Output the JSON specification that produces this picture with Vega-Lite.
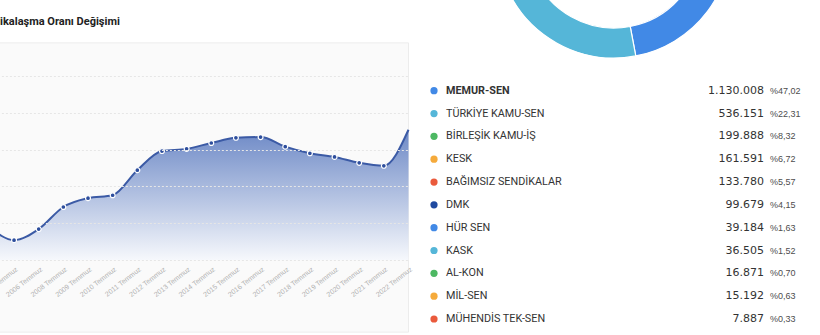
{
  "$schema": "https://vega.github.io/schema/vega-lite/v6.json",
  "width": 820,
  "height": 335,
  "autosize": "none",
  "padding": 0,
  "background": "#ffffff",
  "config": {
    "view": {"stroke": null},
    "locale": {"number": {"decimal": ",", "thousands": ".", "grouping": [3], "currency": ["", ""]}}
  },
  "title": {
    "text": "Sendikalaşma Oranı Değişimi",
    "anchor": "start",
    "frame": "group",
    "orient": "top",
    "offset": 0,
    "dx": -25,
    "dy": 36,
    "baseline": "alphabetic",
    "font": "Roboto",
    "fontSize": 11,
    "fontWeight": "bold",
    "color": "#222222"
  },
  "datasets": {
    "rate": [
      {"label": "2004 Temmuz", "v": 54.5},
      {"label": "2005 Temmuz", "v": 52.7},
      {"label": "2006 Temmuz", "v": 54.2},
      {"label": "2008 Temmuz", "v": 57.2},
      {"label": "2009 Temmuz", "v": 58.4},
      {"label": "2010 Temmuz", "v": 58.8},
      {"label": "2011 Temmuz", "v": 62.2},
      {"label": "2012 Temmuz", "v": 64.8},
      {"label": "2013 Temmuz", "v": 65.1},
      {"label": "2014 Temmuz", "v": 65.9},
      {"label": "2015 Temmuz", "v": 66.6},
      {"label": "2016 Temmuz", "v": 66.7},
      {"label": "2017 Temmuz", "v": 65.4},
      {"label": "2018 Temmuz", "v": 64.5},
      {"label": "2019 Temmuz", "v": 64.0},
      {"label": "2020 Temmuz", "v": 63.2},
      {"label": "2021 Temmuz", "v": 62.8},
      {"label": "2022 Temmuz", "v": 67.7}
    ],
    "unions": [
      {"name": "MEMUR-SEN", "count": 1130008, "pct": 47.02},
      {"name": "TÜRKİYE KAMU-SEN", "count": 536151, "pct": 22.31},
      {"name": "BİRLEŞİK KAMU-İŞ", "count": 199888, "pct": 8.32},
      {"name": "KESK", "count": 161591, "pct": 6.72},
      {"name": "BAĞIMSIZ SENDİKALAR", "count": 133780, "pct": 5.57},
      {"name": "DMK", "count": 99679, "pct": 4.15},
      {"name": "HÜR SEN", "count": 39184, "pct": 1.63},
      {"name": "KASK", "count": 36505, "pct": 1.52},
      {"name": "AL-KON", "count": 16871, "pct": 0.70},
      {"name": "MİL-SEN", "count": 15192, "pct": 0.63},
      {"name": "MÜHENDİS TEK-SEN", "count": 7887, "pct": 0.33}
    ]
  },
  "layer": [
    {
      "data": {"values": [{"panel": "Sendikalaşma Oranı Değişimi"}]},
      "mark": {"type": "rect", "fill": "#fafafa", "stroke": "#ececec", "strokeWidth": 1},
      "encoding": {
        "x": {"datum": "2004 Temmuz", "type": "ordinal", "axis": null,
              "scale": {"type": "point", "domain": ["2004 Temmuz","2005 Temmuz","2006 Temmuz","2008 Temmuz","2009 Temmuz","2010 Temmuz","2011 Temmuz","2012 Temmuz","2013 Temmuz","2014 Temmuz","2015 Temmuz","2016 Temmuz","2017 Temmuz","2018 Temmuz","2019 Temmuz","2020 Temmuz","2021 Temmuz","2022 Temmuz"], "range": [-10.6, 408.5], "padding": 0}},
        "x2": {"datum": "2022 Temmuz"},
        "y": {"datum": 79.5, "type": "quantitative", "axis": null, "scale": {"domain": [50, 75], "range": [260, 76], "zero": false, "nice": false}},
        "y2": {"datum": 40.2}
      }
    },
    {
      "data": {"name": "rate"},
      "mark": {"type": "area", "interpolate": "monotone",
               "color": {"x1": 0, "y1": 0, "x2": 0, "y2": 1, "gradient": "linear",
                         "stops": [{"offset": 0, "color": "#6d89c6"}, {"offset": 1, "color": "#f6f8fc"}]}},
      "encoding": {
        "x": {"field": "label", "type": "ordinal",
              "scale": {"type": "point", "domain": ["2004 Temmuz","2005 Temmuz","2006 Temmuz","2008 Temmuz","2009 Temmuz","2010 Temmuz","2011 Temmuz","2012 Temmuz","2013 Temmuz","2014 Temmuz","2015 Temmuz","2016 Temmuz","2017 Temmuz","2018 Temmuz","2019 Temmuz","2020 Temmuz","2021 Temmuz","2022 Temmuz"], "range": [-10.6, 408.5], "padding": 0},
              "axis": {"title": null, "orient": "bottom", "offset": -72, "labelAngle": -38, "domain": false, "ticks": false, "grid": false, "zindex": 2,
                       "labelColor": "#b0b0b0", "labelFont": "Liberation Sans", "labelFontSize": 7, "labelPadding": 2,
                       "labelOverlap": false, "labelBound": false, "labelFlush": false}},
        "y": {"field": "v", "type": "quantitative",
              "scale": {"domain": [50, 75], "range": [260, 76], "zero": false, "nice": false},
              "axis": {"title": null, "orient": "left", "values": [50, 55, 60, 65, 70, 75], "grid": true, "gridColor": "#e6e6e6", "gridDash": [2, 2], "gridWidth": 1,
                       "labels": false, "ticks": false, "domain": false, "zindex": 2}},
        "y2": {"datum": 50}
      }
    },
    {
      "data": {"name": "rate"},
      "mark": {"type": "line", "interpolate": "monotone", "color": "#3b5aa5", "strokeWidth": 2},
      "encoding": {
        "x": {"field": "label", "type": "ordinal", "axis": null,
              "scale": {"type": "point", "domain": ["2004 Temmuz","2005 Temmuz","2006 Temmuz","2008 Temmuz","2009 Temmuz","2010 Temmuz","2011 Temmuz","2012 Temmuz","2013 Temmuz","2014 Temmuz","2015 Temmuz","2016 Temmuz","2017 Temmuz","2018 Temmuz","2019 Temmuz","2020 Temmuz","2021 Temmuz","2022 Temmuz"], "range": [-10.6, 408.5], "padding": 0}},
        "y": {"field": "v", "type": "quantitative", "axis": null,
              "scale": {"domain": [50, 75], "range": [260, 76], "zero": false, "nice": false}}
      }
    },
    {
      "data": {"name": "rate"},
      "transform": [{"filter": "datum.label !== '2022 Temmuz'"}],
      "mark": {"type": "point", "filled": true, "color": "#2c4d9c", "stroke": "#ffffff", "strokeWidth": 1.2, "size": 24, "opacity": 1},
      "encoding": {
        "x": {"field": "label", "type": "ordinal", "axis": null,
              "scale": {"type": "point", "domain": ["2004 Temmuz","2005 Temmuz","2006 Temmuz","2008 Temmuz","2009 Temmuz","2010 Temmuz","2011 Temmuz","2012 Temmuz","2013 Temmuz","2014 Temmuz","2015 Temmuz","2016 Temmuz","2017 Temmuz","2018 Temmuz","2019 Temmuz","2020 Temmuz","2021 Temmuz","2022 Temmuz"], "range": [-10.6, 408.5], "padding": 0}},
        "y": {"field": "v", "type": "quantitative", "axis": null,
              "scale": {"domain": [50, 75], "range": [260, 76], "zero": false, "nice": false}}
      }
    },
    {
      "data": {"name": "unions"},
      "mark": {"type": "arc", "radius": 117, "radius2": 87, "x": 614, "y": -59, "stroke": "#ffffff", "strokeWidth": 1.2, "clip": true},
      "encoding": {
        "theta": {"field": "pct", "type": "quantitative", "stack": true, "scale": {"domain": [0, 100]}},
        "order": {"field": "pct", "type": "quantitative", "sort": "descending"},
        "color": {"field": "name", "type": "nominal", "legend": null,
                  "scale": {"domain": ["MEMUR-SEN","TÜRKİYE KAMU-SEN","BİRLEŞİK KAMU-İŞ","KESK","BAĞIMSIZ SENDİKALAR","DMK","HÜR SEN","KASK","AL-KON","MİL-SEN","MÜHENDİS TEK-SEN"],
                            "range": ["#4189e6","#55b6d8","#4db863","#f5aa3b","#ea5a3c","#1f4aa0","#4189e6","#55b6d8","#4db863","#f5aa3b","#ea5a3c"]}}
      }
    },
    {
      "data": {"name": "unions"},
      "mark": {"type": "circle", "size": 52, "opacity": 1},
      "encoding": {
        "y": {"field": "name", "type": "nominal", "axis": null,
              "scale": {"type": "point", "domain": ["MEMUR-SEN","TÜRKİYE KAMU-SEN","BİRLEŞİK KAMU-İŞ","KESK","BAĞIMSIZ SENDİKALAR","DMK","HÜR SEN","KASK","AL-KON","MİL-SEN","MÜHENDİS TEK-SEN"], "range": [90.7, 319], "padding": 0}},
        "x": {"datum": 0, "type": "quantitative", "axis": null, "scale": {"domain": [0, 1], "range": [434, 764], "zero": false, "nice": false}},
        "color": {"field": "name", "type": "nominal", "legend": null,
                  "scale": {"domain": ["MEMUR-SEN","TÜRKİYE KAMU-SEN","BİRLEŞİK KAMU-İŞ","KESK","BAĞIMSIZ SENDİKALAR","DMK","HÜR SEN","KASK","AL-KON","MİL-SEN","MÜHENDİS TEK-SEN"],
                            "range": ["#4189e6","#55b6d8","#4db863","#f5aa3b","#ea5a3c","#1f4aa0","#4189e6","#55b6d8","#4db863","#f5aa3b","#ea5a3c"]}}
      }
    },
    {
      "data": {"name": "unions"},
      "mark": {"type": "text", "align": "left", "baseline": "middle", "dx": 12, "font": "Roboto", "fontSize": 10.8, "color": "#333333",
               "fontWeight": {"expr": "datum.name === 'MEMUR-SEN' ? 'bold' : 'normal'"}},
      "encoding": {
        "y": {"field": "name", "type": "nominal", "axis": null,
              "scale": {"type": "point", "domain": ["MEMUR-SEN","TÜRKİYE KAMU-SEN","BİRLEŞİK KAMU-İŞ","KESK","BAĞIMSIZ SENDİKALAR","DMK","HÜR SEN","KASK","AL-KON","MİL-SEN","MÜHENDİS TEK-SEN"], "range": [90.7, 319], "padding": 0}},
        "x": {"datum": 0, "type": "quantitative", "axis": null, "scale": {"domain": [0, 1], "range": [434, 764], "zero": false, "nice": false}},
        "text": {"field": "name", "type": "nominal"}
      }
    },
    {
      "data": {"name": "unions"},
      "mark": {"type": "text", "align": "right", "baseline": "middle", "font": "DejaVu Sans", "fontSize": 11, "color": "#333333"},
      "encoding": {
        "y": {"field": "name", "type": "nominal", "axis": null,
              "scale": {"type": "point", "domain": ["MEMUR-SEN","TÜRKİYE KAMU-SEN","BİRLEŞİK KAMU-İŞ","KESK","BAĞIMSIZ SENDİKALAR","DMK","HÜR SEN","KASK","AL-KON","MİL-SEN","MÜHENDİS TEK-SEN"], "range": [90.7, 319], "padding": 0}},
        "x": {"datum": 1, "type": "quantitative", "axis": null, "scale": {"domain": [0, 1], "range": [434, 764], "zero": false, "nice": false}},
        "text": {"field": "count", "type": "quantitative", "format": ",d"}
      }
    },
    {
      "data": {"name": "unions"},
      "mark": {"type": "text", "align": "left", "baseline": "middle", "dx": 6, "font": "Liberation Sans", "fontSize": 9, "color": "#4d4d4d",
               "text": {"expr": "'%' + format(datum.pct, '.2f')"}},
      "encoding": {
        "y": {"field": "name", "type": "nominal", "axis": null,
              "scale": {"type": "point", "domain": ["MEMUR-SEN","TÜRKİYE KAMU-SEN","BİRLEŞİK KAMU-İŞ","KESK","BAĞIMSIZ SENDİKALAR","DMK","HÜR SEN","KASK","AL-KON","MİL-SEN","MÜHENDİS TEK-SEN"], "range": [90.7, 319], "padding": 0}},
        "x": {"datum": 1, "type": "quantitative", "axis": null, "scale": {"domain": [0, 1], "range": [434, 764], "zero": false, "nice": false}}
      }
    }
  ],
  "resolve": {"scale": {"x": "independent", "y": "independent"}}
}
